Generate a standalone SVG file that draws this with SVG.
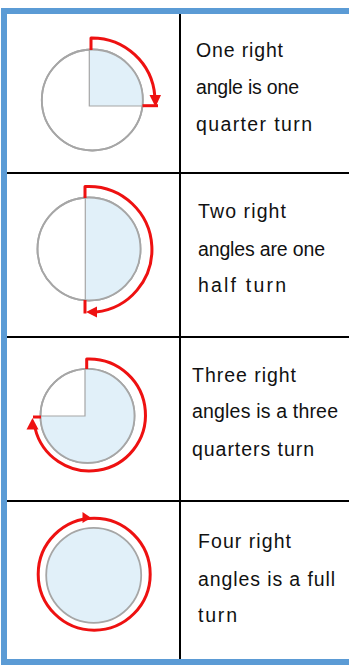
<svg xmlns="http://www.w3.org/2000/svg" width="349" height="669" viewBox="0 0 349 669">
<style>
.frame{fill:#5b9bd5}
.grid{stroke:#000;stroke-width:2;fill:none}
.disc{fill:#fff;stroke:#a6a6a6;stroke-width:1.8}
.wedge{fill:#e1f0f9}
.radius{stroke:#a6a6a6;stroke-width:1.2;fill:none}
.turn{stroke:#ee1111;stroke-width:3;fill:none;stroke-linejoin:round;stroke-linecap:butt}
.head{fill:#ee1111}
.lbl{font-family:"Liberation Sans","DejaVu Sans",sans-serif;font-size:19.5px;fill:#111}
</style>
<rect width="349" height="669" fill="#fff"/>
<g id="frame">
<rect class="frame" x="1" y="8" width="348" height="6"/>
<rect class="frame" x="1" y="8" width="6" height="657"/>
<rect class="frame" x="1" y="659" width="348" height="6"/>
</g>
<g id="grid" class="grid">
<line x1="180" y1="14" x2="180" y2="659"/>
<line x1="7" y1="173" x2="349" y2="173"/>
<line x1="7" y1="337" x2="349" y2="337"/>
<line x1="7" y1="501" x2="349" y2="501"/>
</g>
<g id="quarter">
<circle class="disc" cx="92.3" cy="100" r="50.5"/>
<path class="wedge" d="M89.3,106 V49.6 A50.5,50.5 0 0 1 142.4,106 Z"/>
<path class="radius" d="M89.3,49.6 V106 H142.4"/>
<circle cx="92.3" cy="100" r="50.5" fill="none" stroke="#a6a6a6" stroke-width="1.8"/>
<path class="turn" d="M91,50 V38 H92 A63,63 0 0 1 154.8,96"/>
<polygon class="head" points="149.5,95 161,95 155.5,107"/>
<path class="turn" d="M142.5,105.7 H158"/>
</g>
<g id="half">
<circle class="disc" cx="89" cy="249" r="51.5"/>
<path class="wedge" d="M85.3,300.4 V197.6 A51.5,51.5 0 1 1 85.3,300.4 Z"/>
<path class="radius" d="M85.3,197.6 V300.4"/>
<circle cx="89" cy="249" r="51.5" fill="none" stroke="#a6a6a6" stroke-width="1.8"/>
<path class="turn" d="M85,198 V186.5 H89 A63,63 0 0 1 96,312.1"/>
<polygon class="head" points="86,312 97,306.5 97,317.5"/>
<path class="turn" d="M85,300 V313.5"/>
</g>
<g id="three-quarter">
<circle class="disc" cx="87.5" cy="415.8" r="47"/>
<path class="wedge" d="M85,416 V368.9 A47,47 0 1 1 40.5,416 Z"/>
<path class="radius" d="M85,368.9 V416 H40.5"/>
<circle cx="87.5" cy="415.8" r="47" fill="none" stroke="#a6a6a6" stroke-width="1.8"/>
<path class="turn" d="M86.7,369 V359 H89.5 A56,56 0 1 1 35,428"/>
<polygon class="head" points="32.5,418 26.5,429.5 38.5,429.5"/>
<path class="turn" d="M33,417 H41"/>
</g>
<g id="full">
<circle class="disc" cx="93.7" cy="575.3" r="47.5" style="fill:#e1f0f9"/>
<circle class="turn" cx="94.2" cy="574.2" r="56"/>
<polygon class="head" points="82.5,512 82.5,523 91,517.8"/>
</g>
<g id="texts" class="lbl">
<text x="196" y="57" textLength="87">One right</text>
<text x="196" y="94" textLength="103">angle is one</text>
<text x="196" y="131" textLength="116">quarter turn</text>
<text x="198" y="218" textLength="88">Two right</text>
<text x="198" y="256" textLength="127">angles are one</text>
<text x="198" y="292" textLength="88">half turn</text>
<text x="192" y="382" textLength="104">Three right</text>
<text x="192" y="418" textLength="146">angles is a three</text>
<text x="192" y="456" textLength="122">quarters turn</text>
<text x="198" y="548" textLength="93">Four right</text>
<text x="198" y="586" textLength="137">angles is a full</text>
<text x="198" y="622" textLength="39">turn</text>
</g>
</svg>
